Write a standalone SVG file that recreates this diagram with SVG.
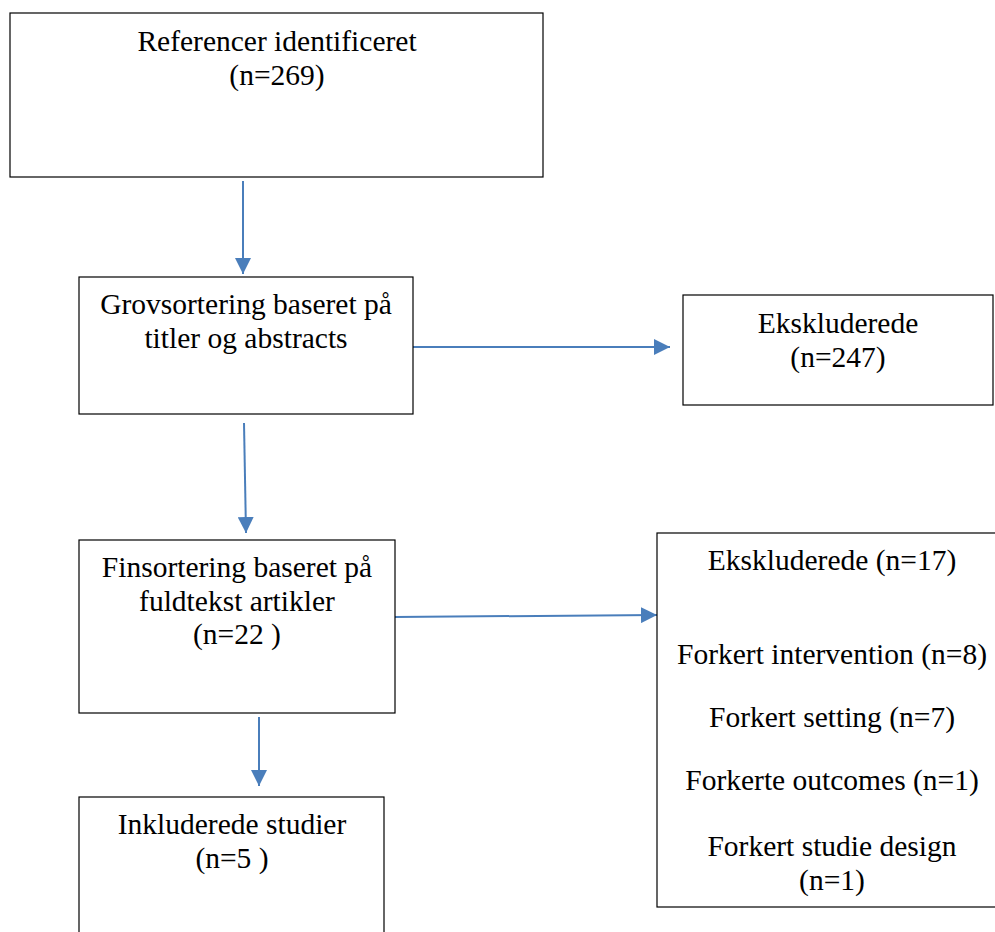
<svg xmlns="http://www.w3.org/2000/svg" width="995" height="932" viewBox="0 0 995 932">
<defs>
<marker id="ah2" markerWidth="16" markerHeight="16" refX="16" refY="8" orient="auto" markerUnits="userSpaceOnUse" viewBox="0 0 16 16">
<path d="M0,0 L16,8 L0,16 Z" fill="#4a7ebb"/>
</marker>
<style>
.box{fill:#fff;stroke:#000;stroke-width:1.2}
.t{font-family:"Liberation Serif","Times New Roman",serif;font-size:29.5px;fill:#000;text-anchor:middle}
.c{stroke:#4a7ebb;stroke-width:2;fill:none;marker-end:url(#ah2)}
</style>
</defs>
<rect width="995" height="932" fill="#fff"/>
<g id="connectors">
<line class="c" x1="243" y1="181" x2="243" y2="274"/>
<line class="c" x1="413" y1="347" x2="670" y2="347"/>
<line class="c" x1="244" y1="423" x2="246" y2="533"/>
<line class="c" x1="395" y1="617" x2="657" y2="615"/>
<line class="c" x1="259" y1="717" x2="259" y2="786"/>
</g>
<g id="n1">
<rect class="box" x="10" y="13" width="533" height="164"/>
<text class="t" x="277" y="51">Referencer identificeret</text>
<text class="t" x="277" y="85">(n=269)</text>
</g>
<g id="n2">
<rect class="box" x="79" y="277" width="334" height="137"/>
<text class="t" x="246" y="314">Grovsortering baseret på</text>
<text class="t" x="246" y="348">titler og abstracts</text>
</g>
<g id="n3">
<rect class="box" x="683" y="295" width="310" height="110"/>
<text class="t" x="838" y="333">Ekskluderede</text>
<text class="t" x="838" y="367">(n=247)</text>
</g>
<g id="n4">
<rect class="box" x="79" y="540" width="316" height="173"/>
<text class="t" x="237" y="577">Finsortering baseret på</text>
<text class="t" x="237" y="611">fuldtekst artikler</text>
<text class="t" x="237" y="644">(n=22 )</text>
</g>
<g id="n5">
<rect class="box" x="657" y="533" width="345" height="374"/>
<text class="t" x="832" y="570">Ekskluderede (n=17)</text>
<text class="t" x="832" y="664">Forkert intervention (n=8)</text>
<text class="t" x="832" y="727">Forkert setting (n=7)</text>
<text class="t" x="832" y="790">Forkerte outcomes (n=1)</text>
<text class="t" x="832" y="856">Forkert studie design</text>
<text class="t" x="832" y="890">(n=1)</text>
</g>
<g id="n6">
<rect class="box" x="79" y="797" width="305" height="150"/>
<text class="t" x="232" y="834">Inkluderede studier</text>
<text class="t" x="232" y="868">(n=5 )</text>
</g>
</svg>
